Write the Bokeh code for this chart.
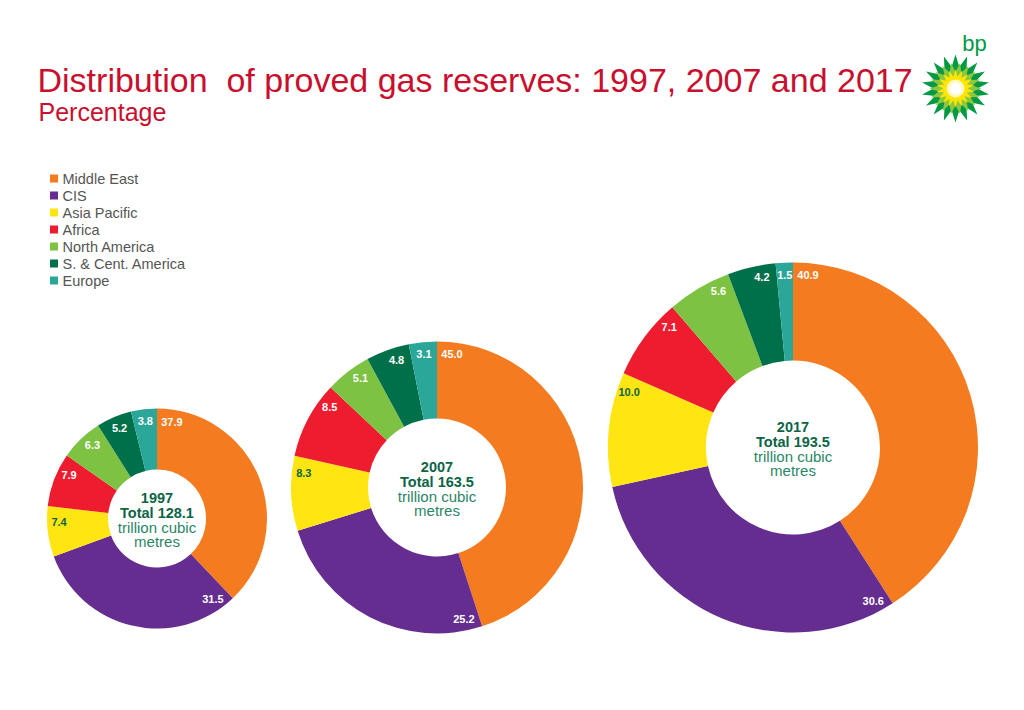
import numpy as np
from bokeh.plotting import figure
from bokeh.models import ColumnDataSource, Range1d
from bokeh.core.properties import value
from bokeh.embed import file_html
from bokeh.resources import INLINE

# ---------------- data ----------------
regions = ["Middle East", "CIS", "Asia Pacific", "Africa", "North America",
           "S. & Cent. America", "Europe"]
colors = ["#F47B20", "#662D91", "#FFE512", "#ED1C2E", "#7DC242", "#00704A", "#2BA79A"]
years = ["1997", "2007", "2017"]
totals = [128.1, 163.5, 193.5]
share_1997 = [37.9, 31.5, 7.4, 7.9, 6.3, 5.2, 3.8]
share_2007 = [45.0, 25.2, 8.3, 8.5, 5.1, 4.8, 3.1]
share_2017 = [40.9, 30.6, 10.0, 7.1, 5.6, 4.2, 1.5]
shares = [share_1997, share_2007, share_2017]

title_text = "Distribution\u00a0 of proved gas reserves: 1997, 2007 and 2017"
subtitle_text = "Percentage"

# ---------------- layout (screen px -> data) ----------------
W, H = 1008, 694
def X(sx):
    return sx
def Y(sy):
    return H - sy

centers = [(156.5, 518), (436.5, 487), (792.5, 447)]
outer_r = [110, 146, 185]
inner_r = [49, 69, 87]

FONT = value("Liberation Sans")
DKGREEN = "#0D6446"
MIDGREEN = "#2A8666"

p = figure(width=W, height=H, x_range=Range1d(0, W), y_range=Range1d(0, H),
           output_backend="svg", toolbar_location=None, min_border=0,
           background_fill_color="white", border_fill_color="white")
p.axis.visible = False
p.grid.visible = False
p.outline_line_color = None

for k in range(3):
    vals = np.array(shares[k], dtype=float)
    frac = vals / vals.sum()
    cum = np.concatenate([[0.0], np.cumsum(frac)])
    t0 = cum[:-1] * 2 * np.pi  # clockwise from top
    t1 = cum[1:] * 2 * np.pi
    cx, cy = X(centers[k][0]), Y(centers[k][1])
    src = ColumnDataSource(dict(start=np.pi / 2 - t1, end=np.pi / 2 - t0, color=colors,
                                region=regions))
    p.annular_wedge(x=cx, y=cy, inner_radius=inner_r[k], outer_radius=outer_r[k],
                    start_angle="start", end_angle="end", direction="anticlock",
                    color="color", line_color=None, source=src)

    # value labels near the top-most edge of each slice
    rl = outer_r[k] - 12
    lx, ly, lt, lc = [], [], [], []
    for i in range(len(vals)):
        arc = (t1[i] - t0[i]) * rl
        off = min(15.0, arc / 2) / rl
        if t0[i] < np.pi:
            th = t0[i] + off
        else:
            th = t1[i] - off
        lx.append(cx + rl * np.sin(th))
        ly.append(cy + rl * np.cos(th))
        lt.append(f"{vals[i]:.1f}")
        lc.append(DKGREEN if regions[i] == "Asia Pacific" else "white")
    p.text(x=lx, y=ly, text=lt, text_color=lc, text_font=FONT, text_font_size="11px",
           text_font_style="bold", text_align="center", text_baseline="middle")

    # centre text
    lines = [years[k], f"Total {totals[k]:.1f}", "trillion cubic", "metres"]
    offs = [-21, -6, 9, 23]
    p.text(x=[cx, cx], y=[cy - offs[0], cy - offs[1]], text=lines[:2],
           text_color=DKGREEN, text_font=FONT, text_font_size="14.5px",
           text_font_style="bold", text_align="center", text_baseline="middle")
    p.text(x=[cx, cx], y=[cy - offs[2], cy - offs[3]], text=lines[2:],
           text_color=MIDGREEN, text_font=FONT, text_font_size="15px",
           text_align="center", text_baseline="middle")

# ---------------- title ----------------
p.text(x=[X(37)], y=[Y(79)], text=[title_text], text_color="#C8102E", text_font=FONT,
       text_font_size="34px", text_align="left", text_baseline="alphabetic")
p.text(x=[X(38)], y=[Y(111)], text=[subtitle_text], text_color="#C8102E", text_font=FONT,
       text_font_size="25px", text_align="left", text_baseline="alphabetic")

# ---------------- legend ----------------
leg_y = [Y(178 + 17 * i) for i in range(len(regions))]
p.scatter(x=[X(53.5)] * len(regions), y=leg_y, marker="square", size=8,
          color=colors, line_color=None)
p.text(x=[X(62)] * len(regions), y=leg_y, text=regions, text_color="#555555",
       text_font=FONT, text_font_size="14.5px", text_align="left", text_baseline="middle")

# ---------------- bp logo ----------------
lcx, lcy = X(955), Y(88)
def star(n, r_out, r_in, rot):
    ang = np.arange(2 * n) * np.pi / n + rot
    rr = np.where(np.arange(2 * n) % 2 == 0, r_out, r_in)
    return list(lcx + rr * np.sin(ang)), list(lcy + rr * np.cos(ang))
for (n, ro, ri, rot, col) in [(18, 34, 22, 0.0, "#009A44"),
                              (18, 26, 17, np.pi / 18, "#8DC63F"),
                              (18, 19, 12, 0.0, "#FFE600")]:
    xs, ys = star(n, ro, ri, rot)
    p.patch(xs, ys, color=col, line_color=None)
p.circle(x=[lcx], y=[lcy], radius=9, color="#FFF9C0", line_color=None)
p.circle(x=[lcx], y=[lcy], radius=6, color="white", line_color=None)
p.text(x=[X(974)], y=[Y(43)], text=["bp"], text_color="#009A44", text_font=FONT,
       text_font_size="22px", text_align="center", text_baseline="alphabetic")

open("out.html", "w").write(file_html(p, INLINE))
